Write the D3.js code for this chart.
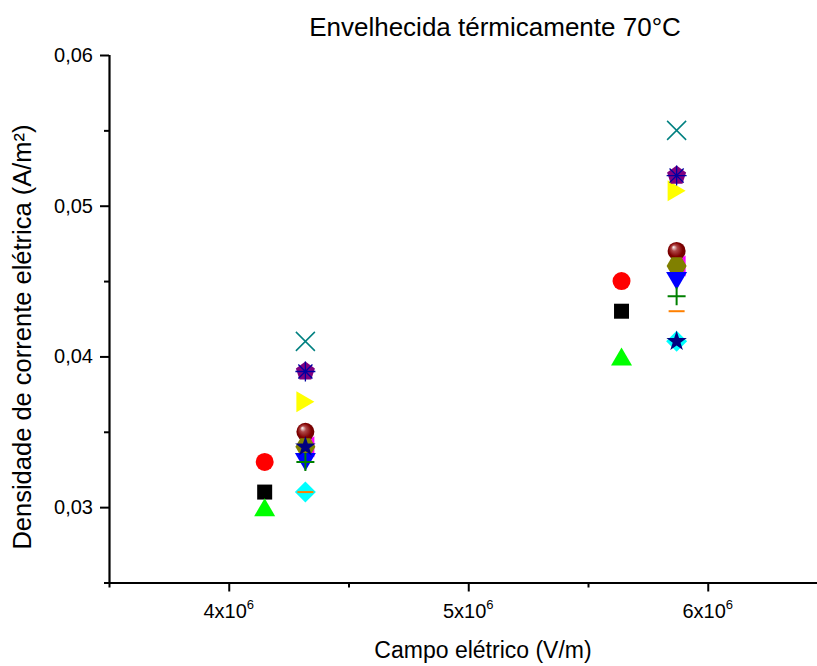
<!DOCTYPE html>
<html>
<head>
<meta charset="utf-8">
<script src="https://cdn.jsdelivr.net/npm/d3@7/dist/d3.min.js"></script>
<style>
  html, body { margin: 0; padding: 0; background: #fff; }
  svg { display: block; font-family: "Liberation Sans", Arial, sans-serif; }
</style>
</head>
<body>
<svg id="chart" width="817" height="666"></svg>
<script>
// ---- data ----
const title = "Envelhecida térmicamente 70°C";
const xLabel = "Campo elétrico (V/m)";
const yLabel = "Densidade de corrente elétrica (A/m²)";

const xA = [4.15e6, 5.64e6];   // first column of each cluster
const xB = [4.32e6, 5.87e6];   // second column of each cluster

const ySquare   = [0.031, 0.043];
const yCircle   = [0.033, 0.045];
const yUpTri    = [0.030, 0.040];
const yLeftTri  = [0.034, 0.046];
const yDiamond  = [0.031, 0.041];
const ySphere   = [0.035, 0.047];
const yHexagon  = [0.034, 0.046];
const yDownTri  = [0.033, 0.045];
const yPlus     = [0.033, 0.044];
const yMinus    = [0.031, 0.043];
const yRightTri = [0.037, 0.051];
const yPentagon = [0.039, 0.052];
const yAsterisk = [0.039, 0.052];
const yCross    = [0.041, 0.055];
const yStar     = [0.034, 0.041];

const xTicks = [4e6, 5e6, 6e6];
const xTickMantissa = ["4", "5", "6"];
const xMinorTicks = [3.5e6, 4.5e6, 5.5e6, 6.5e6];
const yTicks = [0.03, 0.04, 0.05, 0.06];
const yTickLabels = ["0,03", "0,04", "0,05", "0,06"];
const yMinorTicks = [0.025, 0.035, 0.045, 0.055];

// ---- layout ----
const svg = d3.select("#chart");
const pLeft = 109, pRight = 827.5, pTop = 55, pBottom = 582.5;
const x = d3.scaleLinear().domain([3.5e6, 6.5e6]).range([pLeft, pRight]);
const y = d3.scaleLinear().domain([0.025, 0.06]).range([pBottom, pTop]);

const defs = svg.append("defs");
const grad = defs.append("radialGradient").attr("id", "sphereGrad")
  .attr("cx", "0.5").attr("cy", "0.5").attr("r", "0.55")
  .attr("fx", "0.32").attr("fy", "0.28");
grad.append("stop").attr("offset", "0").attr("stop-color", "#ffffff");
grad.append("stop").attr("offset", "0.3").attr("stop-color", "#b04848");
grad.append("stop").attr("offset", "0.7").attr("stop-color", "#800000");
grad.append("stop").attr("offset", "1").attr("stop-color", "#6a0000");

// ---- axes ----
const xAxisG = svg.append("g").attr("transform", `translate(0,${pBottom})`)
  .call(d3.axisBottom(x).tickValues(xTicks).tickSize(9).tickFormat(""));
const xMinorG = svg.append("g").attr("transform", `translate(0,${pBottom})`)
  .call(d3.axisBottom(x).tickValues(xMinorTicks).tickSize(5).tickFormat(""));
const yAxisG = svg.append("g").attr("transform", `translate(${pLeft},0)`)
  .call(d3.axisLeft(y).tickValues(yTicks).tickSize(9).tickFormat((d, i) => yTickLabels[i]).tickPadding(7));
const yMinorG = svg.append("g").attr("transform", `translate(${pLeft},0)`)
  .call(d3.axisLeft(y).tickValues(yMinorTicks).tickSize(5).tickFormat(""));

[xAxisG, xMinorG, yAxisG, yMinorG].forEach(g => {
  g.select(".domain").attr("stroke", "#000").attr("stroke-width", 2.2);
  g.selectAll(".tick line").attr("stroke", "#000").attr("stroke-width", 2);
});
xMinorG.select(".domain").remove();
yMinorG.select(".domain").remove();
yAxisG.select(".domain").attr("d", `M0.5,${y(0.06)}V${pBottom}`);
xAxisG.select(".domain").attr("d", `M${pLeft},0.5H817`);
yAxisG.selectAll(".tick text")
  .attr("font-family", "Liberation Sans, Arial, sans-serif")
  .attr("font-size", 20).attr("fill", "#000");

// x tick labels with superscript
const xt = svg.append("g").selectAll("text").data(xTicks).join("text")
  .attr("x", d => x(d))
  .attr("y", 618)
  .attr("text-anchor", "middle")
  .attr("font-size", 20)
  .attr("fill", "#000");
xt.append("tspan").text((d, i) => xTickMantissa[i] + "x10");
xt.append("tspan").attr("font-size", 13).attr("dy", -9).text("6");

// titles
svg.append("text").attr("x", 495).attr("y", 36).attr("text-anchor", "middle")
  .attr("font-size", 26).attr("fill", "#000").text(title);
svg.append("text").attr("x", 483).attr("y", 658).attr("text-anchor", "middle")
  .attr("font-size", 23).attr("fill", "#000").text(xLabel);
svg.append("text").attr("transform", `translate(31,${337}) rotate(-90)`)
  .attr("text-anchor", "middle")
  .attr("font-size", 25.5).attr("fill", "#000").text(yLabel);

// ---- marker shapes ----
function poly(pts) { return "M" + pts.map(p => p.join(",")).join("L") + "Z"; }
function regular(n, r, rot) {
  const pts = [];
  for (let i = 0; i < n; i++) {
    const a = rot + i * 2 * Math.PI / n;
    pts.push([r * Math.cos(a), r * Math.sin(a)]);
  }
  return poly(pts);
}
const shapes = {
  square:   () => poly([[-7.5,-7.5],[7.5,-7.5],[7.5,7.5],[-7.5,7.5]]),
  upTri:    () => poly([[0,-9],[10.5,9],[-10.5,9]]),
  downTri:  () => poly([[0,9],[10.5,-9],[-10.5,-9]]),
  leftTri:  () => poly([[-9,0],[9,-10.5],[9,10.5]]),
  rightTri: () => poly([[9,0],[-9,-10.5],[-9,10.5]]),
  diamond:  () => poly([[0,-10.5],[10.5,0],[0,10.5],[-10.5,0]]),
  hexagon:  () => regular(6, 10, 0),
  pentagon: () => regular(5, 10, -Math.PI / 2),
  star:     () => d3.symbol(d3.symbolStar, 130)(),
  cross:    () => "M-9.5,-9.5L9.5,9.5M9.5,-9.5L-9.5,9.5",
  plus:     () => "M-9,0H9M0,-9V9",
  minus:    () => "M-8,0H8",
  asterisk: () => {
    let s = "";
    for (let i = 0; i < 4; i++) {
      const a = i * Math.PI / 4 + Math.PI / 2;
      const c = Math.cos(a) * 10, d = Math.sin(a) * 10;
      s += `M${-c},${-d}L${c},${d}`;
    }
    return s;
  }
};

const series = [
  { xs: xA, ys: ySquare,   shape: "square",   fill: "#000000" },
  { xs: xA, ys: yCircle,   shape: "circle",   fill: "#ff0000" },
  { xs: xA, ys: yUpTri,    shape: "upTri",    fill: "#00ff00" },
  { xs: xB, ys: yLeftTri,  shape: "leftTri",  fill: "#ff00ff" },
  { xs: xB, ys: yDiamond,  shape: "diamond",  fill: "#00ffff" },
  { xs: xB, ys: ySphere,   shape: "sphere",   fill: "url(#sphereGrad)" },
  { xs: xB, ys: yHexagon,  shape: "hexagon",  fill: "#808000" },
  { xs: xB, ys: yDownTri,  shape: "downTri",  fill: "#0000ff" },
  { xs: xB, ys: yPlus,     shape: "plus",     stroke: "#008000", sw: 2 },
  { xs: xB, ys: yMinus,    shape: "minus",    stroke: "#ff8000", sw: 2 },
  { xs: xB, ys: yRightTri, shape: "rightTri", fill: "#ffff00" },
  { xs: xB, ys: yPentagon, shape: "pentagon", fill: "#800080" },
  { xs: xB, ys: yAsterisk, shape: "asterisk", stroke: "#0000a0", sw: 1.3 },
  { xs: xB, ys: yCross,    shape: "cross",    stroke: "#008080", sw: 1.5 },
  { xs: xB, ys: yStar,     shape: "star",     fill: "#000080" }
];

const marks = svg.append("g");
series.forEach(s => {
  const pts = s.xs.map((xv, i) => [xv, s.ys[i]]);
  const g = marks.append("g");
  if (s.shape === "circle" || s.shape === "sphere") {
    g.selectAll("circle").data(pts).join("circle")
      .attr("cx", d => x(d[0])).attr("cy", d => y(d[1]))
      .attr("r", 9).attr("fill", s.fill);
  } else {
    g.selectAll("path").data(pts).join("path")
      .attr("transform", d => `translate(${x(d[0])},${y(d[1])})`)
      .attr("d", shapes[s.shape]())
      .attr("fill", s.fill || "none")
      .attr("stroke", s.stroke || "none")
      .attr("stroke-width", s.sw || 0);
  }
});
</script>
</body>
</html>
